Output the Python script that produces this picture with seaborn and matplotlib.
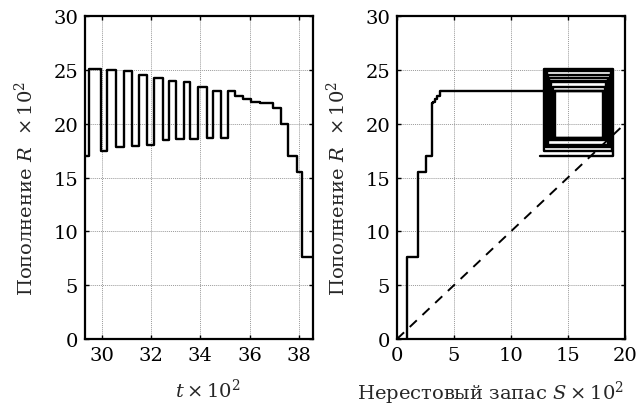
import numpy as np
import pandas as pd
import matplotlib
matplotlib.use("Agg")
import matplotlib.pyplot as plt
import seaborn as sns

# ---- data ----
t_vals = [29.30, 29.50, 29.97, 30.22, 30.56, 30.90, 31.24, 31.50, 31.84, 32.12,
          32.49, 32.73, 33.03, 33.33, 33.60, 33.91, 34.25, 34.51, 34.85, 35.12,
          35.42, 35.73, 36.07, 36.41, 36.68, 36.94, 37.26, 37.55, 37.91, 38.13, 38.60]
R_vals = [17.0, 25.05, 17.5, 25.0, 17.8, 24.9, 17.95, 24.5, 18.05, 24.2,
          18.5, 23.95, 18.6, 23.9, 18.6, 23.45, 18.7, 23.05, 18.7, 23.05,
          22.6, 22.3, 22.05, 21.95, 21.88, 21.5, 20.0, 17.0, 15.5, 7.6, 0.0]
S_vals = [12.5, 18.95, 12.93, 18.85, 13.05, 18.75, 13.15, 18.65, 13.25, 18.55,
          13.35, 18.45, 13.45, 18.35, 13.55, 18.25, 13.7, 18.15, 13.86, 18.08,
          3.76, 3.5, 3.35, 3.2, 3.1, 3.05, 3.03, 3.03, 2.5, 1.86, 0.87]
diag_S = [0, 20]
diag_R = [0, 20]

y_ticks = [0, 5, 10, 15, 20, 25, 30]
t_ticks = [30, 32, 34, 36, 38]
s_ticks = [0, 5, 10, 15, 20]

ylabel = "Пополнение $R$  $\\times\\, 10^2$"
xlabel_left = "$t \\times 10^2$"
xlabel_right = "Нерестовый запас $S \\times 10^2$"

df = pd.DataFrame({"t": t_vals, "R": R_vals, "S": S_vals})
diag = pd.DataFrame({"S": diag_S, "R": diag_R})

sns.set_theme(style="white")
plt.rcParams["font.family"] = ["DejaVu Serif"]
plt.rcParams["mathtext.fontset"] = "dejavuserif"

fig = plt.figure(figsize=(6.36, 4.06), dpi=100)
ax1 = fig.add_axes([85/636, 66/406, 228/636, 323/406])
ax2 = fig.add_axes([397/636, 66/406, 228/636, 323/406])

sns.lineplot(data=df, x="t", y="R", ax=ax1, color="black", lw=1.7,
             drawstyle="steps-post", estimator=None, sort=False)
sns.lineplot(data=df, x="S", y="R", ax=ax2, color="black", lw=1.7,
             drawstyle="steps-post", estimator=None, sort=False)
sns.lineplot(data=diag, x="S", y="R", ax=ax2, color="black", lw=1.4,
             linestyle=(0, (5, 4)), estimator=None, sort=False)

fs = 14
for ax in (ax1, ax2):
    ax.set_ylim(0, 30)
    ax.set_yticks(y_ticks)
    ax.grid(True, color="#9a9a9a", linestyle=(0, (1, 1)), lw=0.7)
    ax.tick_params(direction="in", length=3, width=1, top=True, right=True,
                   bottom=True, left=True, labelsize=fs, pad=5, colors="black")
    for sp in ax.spines.values():
        sp.set_color("black")
        sp.set_linewidth(1.6)
        sp.set_visible(True)
    ax.set_ylabel(ylabel, fontsize=fs)

ax1.set_xlim(29.32, 38.57)
ax1.set_xticks(t_ticks)
ax2.set_xlim(0, 20)
ax2.set_xticks(s_ticks)

ax1.set_xlabel(xlabel_left, fontsize=fs)
ax2.set_xlabel(xlabel_right, fontsize=fs)
ax1.xaxis.set_label_coords(0.54, -0.12)
ax2.xaxis.set_label_coords(0.41, -0.122)
ax1.yaxis.set_label_coords(-0.21, 0.47)
ax2.yaxis.set_label_coords(-0.21, 0.47)

fig.savefig("out.png", dpi=100)
